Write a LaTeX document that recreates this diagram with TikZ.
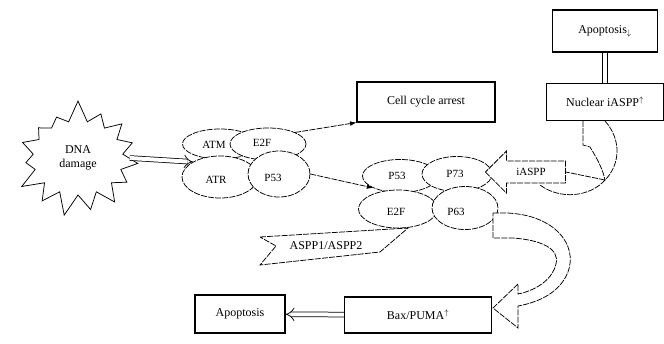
\documentclass[tikz,border=0pt]{standalone}
\usepackage{amsmath}
\usepackage{fontspec}
\setmainfont{Liberation Serif}
\usepackage{tikz}
\usetikzlibrary{shapes.geometric,shapes.symbols,shapes.arrows,arrows.meta}
\tikzset{
	sketch/.style={line width=0.75pt,dash pattern=on 6pt off 1.2pt},
	box/.style 2 args={draw,line width=1.1pt,minimum width=#1,minimum height=#2,inner sep=2pt,font=\fontsize{12}{14}\selectfont},
	blob/.style 2 args={ellipse,draw,fill=white,sketch,minimum width=#1,minimum height=#2,inner sep=0pt},
	lbl/.style={inner sep=1pt,font=\fontsize{11}{13}\selectfont},
	burst/.style={starburst,draw,line width=0.75pt,starburst points=15,starburst point height=22pt,random starburst=7,minimum width=134pt,minimum height=118pt,align=center,font=\fontsize{12}{14}\selectfont},
	hollow/.style={double,double distance=4pt,line width=0.75pt,-{Implies}}
}

\begin{document}
\begin{tikzpicture}[x=1pt,y=-1pt]
	\useasboundingbox (0,0) rectangle (664,343);

	\node [burst] (dna) at (78,158) {DNA\\damage};

	\node [blob={75pt}{30pt}] (atm) at (220,144) {};
	\node [blob={76pt}{32pt}] (etf) at (268,144) {};
	\node [blob={76pt}{42pt}] (atr) at (220,177) {};
	\node [blob={62pt}{46pt}] (pfs) at (279,174) {};
	\node [lbl] (atmtxt) at (214,145) {ATM};
	\node [lbl] (etftxt) at (262,143) {E2F};
	\node [lbl] (atrtxt) at (216,180) {ATR};
	\node [lbl] (pfstxt) at (273,178) {P53};

	\node [blob={75pt}{33pt}] (qfs) at (400,176) {};
	\node [blob={70pt}{35pt}] (qss) at (457,174) {};
	\node [blob={79pt}{38pt}] (qef) at (398,209) {};
	\node [blob={66pt}{43pt}] (qst) at (465,208) {};
	\node [lbl] (qfstxt) at (397,176) {P53};
	\node [lbl] (qsstxt) at (455,174) {P73};
	\node [lbl] (qeftxt) at (396,212) {E2F};
	\node [lbl] (qsttxt) at (456,212) {P63};

	\node [box={138pt}{40pt}] (arrest) at (426,102) {Cell cycle arrest};
	\node [box={105pt}{42pt}] (apoup) at (605,31) {Apoptosis$_{\downarrow}$};
	\node [box={117pt}{37pt}] (nuc) at (605,102) {Nuclear iASPP$^{\uparrow}$};
	\node [box={90pt}{38pt}] (apodown) at (240,314) {Apoptosis};
	\node [box={147pt}{36pt}] (bax) at (418,315) {Bax/PUMA$^{\uparrow}$};

	\node [single arrow,draw,sketch,fill=white,shape border rotate=180,minimum height=80pt,single arrow head extend=10pt,inner sep=7pt,font=\fontsize{11}{13}\selectfont] (iaspp) at (531,172) {iASPP};

	\draw [sketch,fill=white] (260,237) -- (408,228) -- (380,252) -- (260,265) -- (276,246) -- cycle;
	\node [inner sep=1pt,font=\fontsize{12}{14}\selectfont] (aspp) at (326,246) {ASPP1/ASPP2};

	\draw [hollow] (dna.east) -- (atr.north west);
	\draw [sketch,-{Latex}] (etf.north east) -- (arrest.south west);
	\draw [sketch,-{Latex}] (pfs.east) -- (qfs.south west);
	\draw [double,double distance=4pt,line width=0.75pt] (apoup) -- (nuc);
	\draw [hollow] (bax) -- (apodown);

	\draw [sketch] (583,121) -- (583,145) -- (590,147) .. controls (598,160) and (603,170) .. (605,180);
	\draw [sketch] (605,121) .. controls (622,140) and (620,165) .. (605,180);
	\draw [sketch] (605,180) -- (iaspp.tail);
	\draw [sketch] (605,180) .. controls (590,197) and (560,200) .. (540,185);

	\draw [sketch,fill=white] (493,213) -- (507,213) .. controls (555,215) and (578,245) .. (568,272) .. controls (560,292) and (540,302) .. (518,306) -- (518,328) -- (493,308) -- (518,284) -- (518,294) .. controls (538,290) and (553,278) .. (556,264) .. controls (560,248) and (540,240) .. (513,238) -- (493,238) -- cycle;
\end{tikzpicture}
\end{document}
